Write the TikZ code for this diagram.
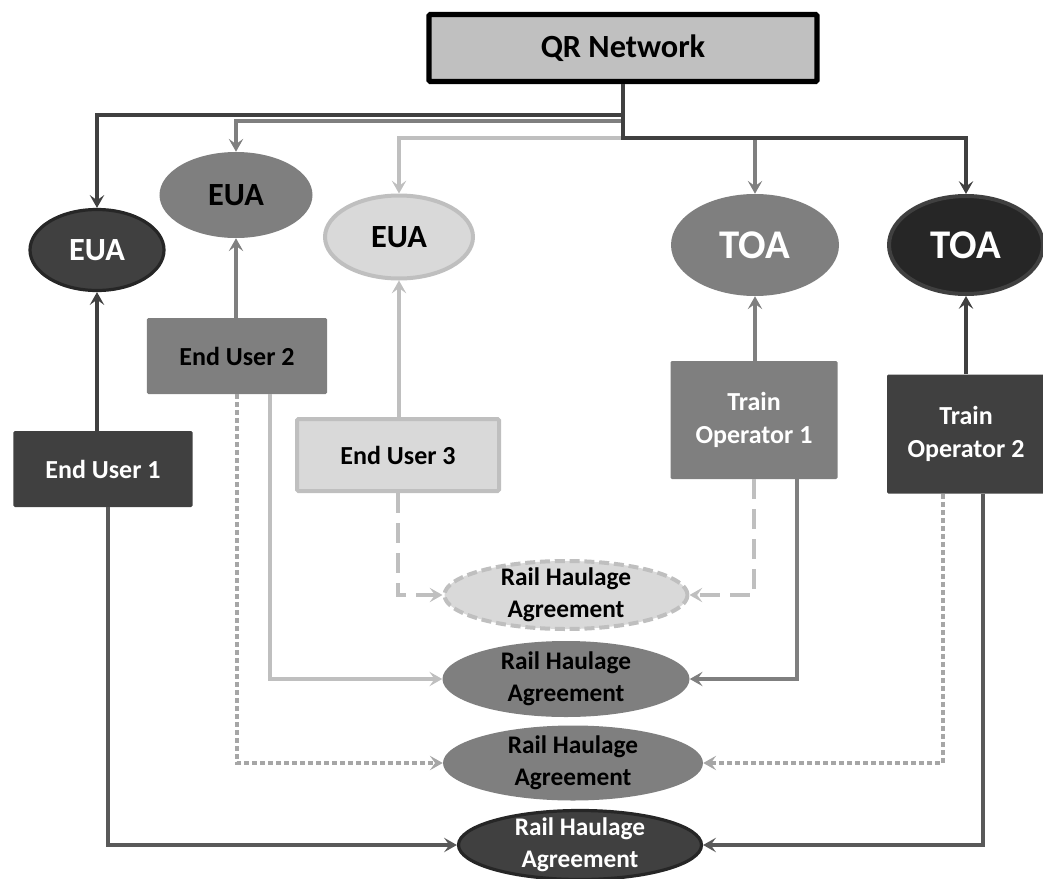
\documentclass[tikz,border=0pt]{standalone}
\usepackage{fontspec}
\setmainfont{Carlito}
\usepackage{xcolor}
\usetikzlibrary{arrows.meta,positioning,calc,shapes.geometric}
\definecolor{cQr}  {HTML}{C0C0C0}
\definecolor{cDark}{HTML}{404040}
\definecolor{cDeep}{HTML}{262626}
\definecolor{cMid} {HTML}{7F7F7F}
\definecolor{cPale}{HTML}{D9D9D9}
\definecolor{cLine}{HTML}{BFBFBF}
\definecolor{cDot} {HTML}{A6A6A6}
\definecolor{cLink}{HTML}{595959}
\tikzset{
  >={Stealth[length=3.2mm,width=3.6mm,inset=1.3mm]},
  box/.style    ={rectangle,rounded corners=1pt,align=center,inner sep=2pt,
                  font=\fontsize{18.5}{23}\selectfont\bfseries},
  darkbox/.style={box,fill=cDark,text=white},
  midbox/.style ={box,fill=cMid,text=black},
  palebox/.style={box,fill=cPale,draw=cLine,line width=1mm,text=black},
  agent/.style  ={ellipse,inner sep=0pt,font=\fontsize{23}{26}\selectfont\bfseries},
  agr/.style    ={ellipse,inner sep=0pt},
  agrtext/.style={font=\fontsize{18}{22.5}\selectfont\bfseries,align=center},
  link/.style   ={->,line width=1.2mm},
}

\begin{document}
\begin{tikzpicture}[x=0.25mm,y=-0.25mm]
\useasboundingbox (0,0) rectangle (1043,879);

% top: network
\node[box,fill=cQr,draw=black,line width=1.3mm,minimum width=97mm,
      minimum height=16.75mm,font=\fontsize{23}{26}\selectfont\bfseries] (qr) at (623,48) {QR Network};
\coordinate (busA) at (623,115);
\coordinate (busB) at (623,121);
\coordinate (busC) at (623,138);

% access agreements
\node[agent,fill=cDark,draw=cDeep,line width=0.8mm,text=white,
      minimum width=33.5mm,minimum height=20.25mm] (eua1) at (97,250) {EUA};
\node[agent,fill=cMid,minimum width=38.25mm,minimum height=21.5mm] (eua2) at (236,195) {EUA};
\node[agent,fill=cPale,draw=cLine,line width=1mm,
      minimum width=37mm,minimum height=20.75mm] (eua3) at (399,237) {EUA};
\node[agent,fill=cMid,text=white,font=\fontsize{29}{32}\selectfont\bfseries,
      minimum width=42mm,minimum height=25.5mm] (toa1) at (755,245) {TOA};
\node[agent,fill=cDeep,draw=cDark,line width=1mm,text=white,
      font=\fontsize{29}{32}\selectfont\bfseries,
      minimum width=38.5mm,minimum height=24.5mm] (toa2) at (966,245) {TOA};

% parties
\node[darkbox,minimum width=44.75mm,minimum height=19mm] (eu1) at (103,469) {End User 1};
\node[midbox,minimum width=45mm,minimum height=19mm] (eu2) at (237,356) {End User 2};
\node[palebox,minimum width=50.5mm,minimum height=18mm] (eu3) at (398,455) {End User 3};
\node[midbox,text=white,minimum width=41.75mm,minimum height=29.5mm] (to1) at (754,420) {Train\\Operator 1};
\node[darkbox,minimum width=39.5mm,minimum height=29.75mm] (to2) at (966,434) {Train\\Operator 2};

% haulage agreements
\node[agr,fill=cPale,draw=cLine,line width=1mm,dash pattern=on 2.5mm off 1.2mm,
      minimum width=60.75mm,minimum height=17mm,
      label={[agrtext]center:Rail Haulage\\Agreement}] (rha1) at (566,595) {};
\node[agr,fill=cMid,minimum width=61.75mm,minimum height=19mm,
      label={[agrtext]center:Rail Haulage\\Agreement}] (rha2) at (566,679) {};
\node[agr,fill=cMid,minimum width=65mm,minimum height=18.75mm,
      label={[agrtext]center:Rail Haulage\\Agreement}] (rha3) at (573,763) {};
\node[agr,fill=cDark,draw=cDeep,line width=0.8mm,minimum width=60.75mm,minimum height=17.25mm,
      label={[agrtext,text=white]center:Rail Haulage\\Agreement}] (rha4) at (580,845) {};

% network to agreements
\draw[link,cLine] (busC) -| (eua3.north);
\draw[link,cMid] (busB) -| (eua2.north);
\draw[link,cMid] (toa1.north |- busC) -- (toa1.north);
\draw[link,cDark] (qr.south) -- (busC) -| (toa2.north);
\draw[link,cDark] (busA) -| (eua1.north);

% parties sign access agreements
\draw[link,cDark] (eua1.south |- eu1.north) -- (eua1.south);
\draw[link,cMid]  (eua2.south |- eu2.north) -- (eua2.south);
\draw[link,cLine] (eua3.south |- eu3.north) -- (eua3.south);
\draw[link,cMid]  (toa1.south |- to1.north) -- (toa1.south);
\draw[link,cDark] (toa2.south |- to2.north) -- (toa2.south);

% parties to haulage agreements
\draw[link,cLine,dash pattern=on 5mm off 2.5mm] (eu3.south) |- (rha1.west);
\draw[link,cLine,dash pattern=on 5mm off 2.5mm] (to1.south) |- (rha1.east);
\draw[link,cLine] ($(eu2.south)+(33,0)$) |- (rha2.west);
\draw[link,cMid]  ($(to1.south)+(43,0)$) |- (rha2.east);
\draw[link,cDot,dash pattern=on 1.2mm off 0.8mm] (eu2.south) |- (rha3.west);
\draw[link,cDot,dash pattern=on 1.2mm off 0.8mm] ($(to2.south)+(-23,0)$) |- (rha3.east);
\draw[link,cLink] ($(eu1.south)+(5,0)$) |- (rha4.west);
\draw[link,cLink] ($(to2.south)+(17,0)$) |- (rha4.east);
\end{tikzpicture}
\end{document}
